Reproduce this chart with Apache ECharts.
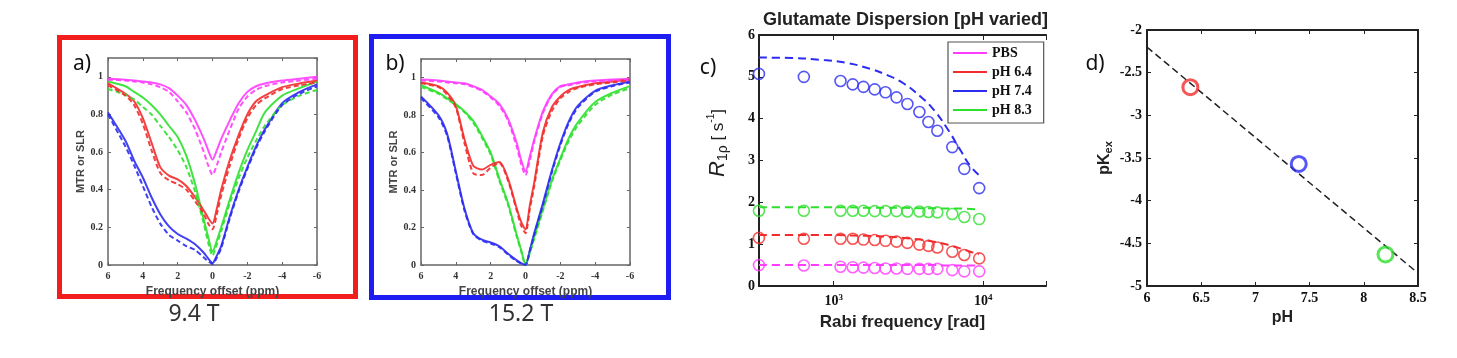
<!DOCTYPE html>
<html>
<head>
<meta charset="utf-8">
<script src="https://cdn.jsdelivr.net/npm/echarts@6/dist/echarts.min.js"></script>
<style>
html, body { margin: 0; padding: 0; background: #fff; }
#chart { width: 1457px; height: 358px; }
</style>
</head>
<body>
<div id="chart"></div>
<script>
// a) / b) Z-spectra: frequency offset (ppm), solid = MTR, dashed = SLR
const offsetPpm = [6, 5, 4.5, 4, 3.5, 3, 2.5, 2, 1.5, 1, 0.5, 0.25, 0, -0.25, -0.5, -1, -1.5, -2, -2.5, -3, -4, -5, -6];

// 9.4 T
const pbsSolidA  = [0.99, 0.985, 0.98, 0.975, 0.97, 0.96, 0.94, 0.90, 0.85, 0.77, 0.67, 0.61, 0.56, 0.61, 0.67, 0.77, 0.86, 0.92, 0.95, 0.965, 0.98, 0.99, 1.0];
const pbsDashA   = [0.985, 0.98, 0.975, 0.97, 0.96, 0.945, 0.92, 0.87, 0.81, 0.72, 0.60, 0.53, 0.48, 0.53, 0.60, 0.72, 0.83, 0.895, 0.93, 0.95, 0.97, 0.98, 0.99];
const ph64SolidA = [0.965, 0.91, 0.87, 0.78, 0.65, 0.52, 0.475, 0.455, 0.42, 0.36, 0.29, 0.25, 0.22, 0.30, 0.40, 0.56, 0.69, 0.80, 0.87, 0.90, 0.945, 0.965, 0.98];
const ph64DashA  = [0.955, 0.90, 0.85, 0.75, 0.61, 0.49, 0.45, 0.43, 0.40, 0.34, 0.27, 0.22, 0.19, 0.27, 0.37, 0.53, 0.67, 0.78, 0.85, 0.885, 0.935, 0.955, 0.97];
const ph74SolidA = [0.81, 0.66, 0.555, 0.465, 0.36, 0.27, 0.205, 0.165, 0.14, 0.11, 0.065, 0.035, 0.01, 0.05, 0.10, 0.26, 0.40, 0.52, 0.63, 0.72, 0.86, 0.92, 0.96];
const ph74DashA  = [0.80, 0.63, 0.53, 0.42, 0.31, 0.22, 0.16, 0.13, 0.10, 0.08, 0.04, 0.02, 0.005, 0.04, 0.09, 0.25, 0.39, 0.51, 0.62, 0.71, 0.85, 0.91, 0.95];
const ph83SolidA = [0.975, 0.95, 0.92, 0.89, 0.85, 0.80, 0.74, 0.68, 0.58, 0.43, 0.24, 0.15, 0.07, 0.13, 0.20, 0.35, 0.49, 0.61, 0.71, 0.81, 0.90, 0.94, 0.975];
const ph83DashA  = [0.935, 0.905, 0.88, 0.84, 0.80, 0.74, 0.68, 0.61, 0.52, 0.39, 0.22, 0.12, 0.05, 0.11, 0.18, 0.33, 0.46, 0.57, 0.66, 0.74, 0.85, 0.90, 0.93];

// 15.2 T
const pbsSolidB  = [0.99, 0.985, 0.98, 0.975, 0.97, 0.955, 0.935, 0.90, 0.86, 0.78, 0.65, 0.56, 0.50, 0.58, 0.67, 0.82, 0.91, 0.955, 0.965, 0.975, 0.985, 0.99, 0.995];
const pbsDashB   = [0.985, 0.98, 0.975, 0.97, 0.965, 0.95, 0.93, 0.895, 0.85, 0.77, 0.63, 0.54, 0.48, 0.56, 0.66, 0.81, 0.905, 0.95, 0.96, 0.97, 0.98, 0.985, 0.99];
const ph64SolidB = [0.975, 0.955, 0.92, 0.85, 0.67, 0.53, 0.51, 0.535, 0.55, 0.46, 0.30, 0.23, 0.19, 0.32, 0.44, 0.71, 0.84, 0.90, 0.935, 0.95, 0.97, 0.98, 0.99];
const ph64DashB  = [0.97, 0.95, 0.91, 0.84, 0.65, 0.49, 0.48, 0.52, 0.545, 0.45, 0.29, 0.21, 0.17, 0.30, 0.42, 0.69, 0.82, 0.89, 0.925, 0.945, 0.965, 0.975, 0.985];
const ph74SolidB = [0.90, 0.80, 0.70, 0.50, 0.30, 0.17, 0.135, 0.12, 0.10, 0.06, 0.025, 0.01, 0.0, 0.08, 0.17, 0.33, 0.50, 0.65, 0.77, 0.85, 0.93, 0.96, 0.98];
const ph74DashB  = [0.89, 0.79, 0.69, 0.49, 0.29, 0.165, 0.13, 0.115, 0.095, 0.055, 0.02, 0.008, 0.0, 0.075, 0.16, 0.32, 0.49, 0.64, 0.76, 0.84, 0.925, 0.955, 0.975];
const ph83SolidB = [0.96, 0.92, 0.89, 0.86, 0.82, 0.77, 0.69, 0.60, 0.46, 0.33, 0.16, 0.08, 0.005, 0.07, 0.15, 0.30, 0.45, 0.57, 0.68, 0.76, 0.87, 0.92, 0.955];
const ph83DashB  = [0.95, 0.915, 0.885, 0.855, 0.815, 0.76, 0.68, 0.59, 0.45, 0.32, 0.15, 0.075, 0.0, 0.065, 0.14, 0.29, 0.44, 0.56, 0.665, 0.745, 0.855, 0.91, 0.945];

// c) R1rho dispersion, Rabi frequency (rad)
const rabiX = [316, 631, 1110, 1340, 1580, 1880, 2220, 2630, 3110, 3740, 4300, 4930, 6210, 7470, 9400];
const r1pPbs  = [0.5, 0.49, 0.46, 0.45, 0.44, 0.43, 0.42, 0.42, 0.41, 0.41, 0.41, 0.41, 0.38, 0.35, 0.35];
const r1p64   = [1.15, 1.13, 1.13, 1.13, 1.11, 1.1, 1.08, 1.06, 1.03, 0.99, 0.96, 0.92, 0.82, 0.74, 0.66];
const r1p74   = [5.07, 5.0, 4.9, 4.82, 4.76, 4.7, 4.63, 4.51, 4.35, 4.16, 3.92, 3.71, 3.32, 2.8, 2.34];
const r1p83   = [1.8, 1.8, 1.8, 1.8, 1.8, 1.79, 1.79, 1.79, 1.78, 1.78, 1.77, 1.76, 1.72, 1.65, 1.6];
const fitX    = [316, 520, 860, 1230, 1680, 2280, 2940, 3800, 4670, 5730, 7030, 8190, 9360];
const fitPbs  = [0.50, 0.50, 0.50, 0.50, 0.50, 0.50, 0.50, 0.50, 0.50, 0.49, 0.49, 0.49, 0.49];
const fit64   = [1.22, 1.22, 1.22, 1.21, 1.20, 1.18, 1.15, 1.11, 1.06, 0.99, 0.90, 0.82, 0.76];
const fit74   = [5.46, 5.45, 5.40, 5.33, 5.21, 5.04, 4.84, 4.53, 4.21, 3.77, 3.25, 2.87, 2.65];
const fit83   = [1.88, 1.88, 1.88, 1.88, 1.87, 1.87, 1.87, 1.86, 1.86, 1.85, 1.85, 1.84, 1.83];
const legendNames = ['PBS', 'pH 6.4', 'pH 7.4', 'pH 8.3'];

// d) pKex vs pH
const dPH = [6.4, 7.4, 8.2];
const dPK = [-2.67, -3.57, -4.63];
const fitPH = [6, 8.5];
const fitPK = [-2.2, -4.85];

const MAGENTA = '#ff3cff', RED = '#f22c2c', BLUE = '#2c2cf2', GREEN = '#2ee02e';
const serifBold = { fontFamily: 'Liberation Serif', fontWeight: 'bold' };
const sansBold = { fontFamily: 'Liberation Sans', fontWeight: 'bold' };

const chart = echarts.init(document.getElementById('chart'));

function zAxisX(gridIndex, top) {
    return {
        gridIndex, type: 'value', min: -6, max: 6, interval: 2, inverse: true,
        position: top ? 'top' : 'bottom',
        axisLine: { show: true, onZero: false, lineStyle: { color: '#666', width: 1.5 } },
        axisTick: { show: true, inside: true, length: 3, lineStyle: { color: '#666' } },
        axisLabel: { show: !top, margin: 6, fontSize: 10, color: '#333', ...serifBold },
        splitLine: { show: false },
        name: top ? '' : 'Frequency offset (ppm)', nameLocation: 'middle', nameGap: 17,
        nameTextStyle: { fontSize: 12, color: '#444', ...sansBold }
    };
}
function zAxisY(gridIndex, right) {
    return {
        gridIndex, type: 'value', min: 0, max: 1.1, interval: 0.2,
        position: right ? 'right' : 'left',
        axisLine: { show: true, onZero: false, lineStyle: { color: '#666', width: 1.5 } },
        axisTick: { show: true, inside: true, length: 3, lineStyle: { color: '#666' } },
        axisLabel: { show: !right, margin: 5, fontSize: 10, color: '#333', showMaxLabel: false, ...serifBold },
        splitLine: { show: false },
        name: right ? '' : 'MTR or SLR', nameLocation: 'middle', nameGap: 22,
        nameTextStyle: { fontSize: 11, color: '#444', ...sansBold }
    };
}
function zLine(name, values, color, dashed, axisIndex) {
    return {
        type: 'line', name, xAxisIndex: axisIndex, yAxisIndex: axisIndex,
        data: offsetPpm.map((x, i) => [x, values[i]]),
        symbol: 'none', smooth: 0.25, silent: true, z: dashed ? 3 : 2,
        lineStyle: { color, width: 2, opacity: 0.9, type: dashed ? [5, 3] : 'solid' }
    };
}
function fitLine(name, values, color) {
    return {
        type: 'line', name, xAxisIndex: 4, yAxisIndex: 4,
        data: fitX.map((x, i) => [x, values[i]]),
        symbol: 'none', smooth: true, silent: true,
        itemStyle: { color },
        lineStyle: { color, width: 2, type: [8, 5] }
    };
}
function dots(name, values, color) {
    return {
        type: 'scatter', name, xAxisIndex: 4, yAxisIndex: 4,
        data: rabiX.map((x, i) => [x, values[i]]),
        symbol: 'circle', symbolSize: 11, silent: true,
        itemStyle: { color: 'rgba(0,0,0,0)', borderColor: color, borderWidth: 1.6 }
    };
}
function logLabel(v) {
    const e = Math.log10(v);
    if (Math.abs(e - Math.round(e)) > 1e-6) return '';
    return '{b|10}{e|' + Math.round(e) + '}';
}

const blackLine = { color: '#222', width: 2 };

const option = {
    animation: false,
    backgroundColor: '#fff',
    title: {
        text: 'Glutamate Dispersion [pH varied]', left: 758, top: 6,
        textStyle: { fontSize: 18, color: '#222', ...sansBold }
    },
    legend: {
        data: legendNames, orient: 'vertical', left: 948, top: 42,
        icon: 'rect', itemWidth: 34, itemHeight: 2, itemGap: 5,
        padding: [4, 12, 6, 5],
        borderColor: '#555', borderWidth: 1.2, backgroundColor: '#fff',
        itemStyle: { borderWidth: 0 },
        textStyle: { fontSize: 14, lineHeight: 14, color: '#111', ...serifBold },
        selectedMode: false
    },
    grid: [
        { left: 108, top: 58, width: 209, height: 207, outerBoundsMode: 'none', containLabel: false },
        { left: 421, top: 59, width: 209, height: 206, outerBoundsMode: 'none', containLabel: false },
        { left: 759, top: 35, width: 287, height: 251, outerBoundsMode: 'none', containLabel: false },
        { left: 1147, top: 30, width: 271, height: 256, outerBoundsMode: 'none', containLabel: false }
    ],
    xAxis: [
        zAxisX(0, false), zAxisX(0, true),
        zAxisX(1, false), zAxisX(1, true),
        {
            gridIndex: 2, type: 'log', logBase: 10, min: 316.23, max: 26300,
            axisLine: { show: true, onZero: false, lineStyle: blackLine },
            axisTick: { show: true, inside: true, length: 5, lineStyle: { color: '#222' } },
            axisLabel: {
                margin: 7, formatter: logLabel, color: '#111',
                rich: {
                    b: { fontSize: 14, ...serifBold, color: '#111' },
                    e: { fontSize: 9, ...serifBold, color: '#111', verticalAlign: 'top', padding: [0, 0, 8, 0] }
                }
            },
            splitLine: { show: false },
            name: 'Rabi frequency [rad]', nameLocation: 'middle', nameGap: 28,
            nameTextStyle: { fontSize: 17, color: '#222', ...sansBold }
        },
        {
            gridIndex: 2, type: 'log', logBase: 10, min: 316.23, max: 26300, position: 'top',
            axisLine: { show: true, onZero: false, lineStyle: blackLine },
            axisTick: { show: true, inside: true, length: 5, lineStyle: { color: '#222' } },
            axisLabel: { show: false }, splitLine: { show: false }
        },
        {
            gridIndex: 3, type: 'value', min: 6, max: 8.5, interval: 0.5,
            axisLine: { show: true, onZero: false, lineStyle: blackLine },
            axisTick: { show: true, inside: true, length: 4, lineStyle: { color: '#222' } },
            axisLabel: { margin: 5, fontSize: 14, color: '#111', ...serifBold },
            splitLine: { show: false },
            name: 'pH', nameLocation: 'middle', nameGap: 21,
            nameTextStyle: { fontSize: 16, color: '#222', ...sansBold }
        },
        {
            gridIndex: 3, type: 'value', min: 6, max: 8.5, interval: 0.5, position: 'top',
            axisLine: { show: true, onZero: false, lineStyle: blackLine },
            axisTick: { show: true, inside: true, length: 4, lineStyle: { color: '#222' } },
            axisLabel: { show: false }, splitLine: { show: false }
        }
    ],
    yAxis: [
        zAxisY(0, false), zAxisY(0, true),
        zAxisY(1, false), zAxisY(1, true),
        {
            gridIndex: 2, type: 'value', min: 0, max: 6, interval: 1,
            axisLine: { show: true, onZero: false, lineStyle: blackLine },
            axisTick: { show: true, inside: true, length: 4, lineStyle: { color: '#222' } },
            axisLabel: { margin: 4, fontSize: 14, color: '#111', ...serifBold },
            splitLine: { show: false }
        },
        {
            gridIndex: 3, type: 'value', min: -5, max: -2, interval: 0.5,
            axisLine: { show: true, onZero: false, lineStyle: blackLine },
            axisTick: { show: true, inside: true, length: 4, lineStyle: { color: '#222' } },
            axisLabel: { margin: 5, fontSize: 14, color: '#111', ...serifBold },
            splitLine: { show: false },
            name: '{n|pK}{s|ex}', nameLocation: 'middle', nameGap: 33,
            nameTextStyle: {
                rich: {
                    n: { fontSize: 16, color: '#222', ...sansBold },
                    s: { fontSize: 11, color: '#222', ...sansBold, verticalAlign: 'bottom', padding: [8, 0, 0, 0] }
                }
            }
        },
        {
            gridIndex: 3, type: 'value', min: -5, max: -2, interval: 0.5, position: 'right',
            axisLine: { show: true, onZero: false, lineStyle: blackLine },
            axisTick: { show: true, inside: true, length: 4, lineStyle: { color: '#222' } },
            axisLabel: { show: false }, splitLine: { show: false }
        }
    ],
    series: [
        zLine('a pbs', pbsSolidA, MAGENTA, false, 0), zLine('a pbs fit', pbsDashA, MAGENTA, true, 0),
        zLine('a 8.3', ph83SolidA, GREEN, false, 0), zLine('a 8.3 fit', ph83DashA, GREEN, true, 0),
        zLine('a 7.4', ph74SolidA, BLUE, false, 0), zLine('a 7.4 fit', ph74DashA, BLUE, true, 0),
        zLine('a 6.4', ph64SolidA, RED, false, 0), zLine('a 6.4 fit', ph64DashA, RED, true, 0),
        zLine('b pbs', pbsSolidB, MAGENTA, false, 2), zLine('b pbs fit', pbsDashB, MAGENTA, true, 2),
        zLine('b 8.3', ph83SolidB, GREEN, false, 2), zLine('b 8.3 fit', ph83DashB, GREEN, true, 2),
        zLine('b 7.4', ph74SolidB, BLUE, false, 2), zLine('b 7.4 fit', ph74DashB, BLUE, true, 2),
        zLine('b 6.4', ph64SolidB, RED, false, 2), zLine('b 6.4 fit', ph64DashB, RED, true, 2),

        fitLine('PBS', fitPbs, MAGENTA), fitLine('pH 6.4', fit64, RED),
        fitLine('pH 7.4', fit74, BLUE), fitLine('pH 8.3', fit83, GREEN),
        dots('PBS', r1pPbs, MAGENTA), dots('pH 6.4', r1p64, RED),
        dots('pH 7.4', r1p74, BLUE), dots('pH 8.3', r1p83, GREEN),

        {
            type: 'line', name: 'd fit', xAxisIndex: 6, yAxisIndex: 5,
            data: fitPH.map((x, i) => [x, fitPK[i]]),
            symbol: 'none', silent: true,
            lineStyle: { color: '#222', width: 1.5, type: [7, 4] }
        },
        {
            type: 'scatter', name: 'd pts', xAxisIndex: 6, yAxisIndex: 5,
            symbol: 'circle', symbolSize: 15, silent: true, z: 3,
            data: dPH.map((x, i) => ({
                value: [x, dPK[i]],
                itemStyle: { color: 'rgba(0,0,0,0)', borderColor: [RED, BLUE, GREEN][i], borderWidth: 3 }
            }))
        }
    ],
    graphic: [
        { type: 'rect', shape: { x: 59.5, y: 37.5, width: 296, height: 259 }, style: { fill: 'none', stroke: '#f21d1d', lineWidth: 5 }, silent: true },
        { type: 'rect', shape: { x: 371.5, y: 36.5, width: 297, height: 261 }, style: { fill: 'none', stroke: '#1d1df2', lineWidth: 5 }, silent: true },
        { type: 'text', style: { text: 'a)', x: 82, y: 64, textAlign: 'center', textVerticalAlign: 'middle', align: 'center', verticalAlign: 'middle', fontSize: 21, fontFamily: 'Noto Sans', fill: '#111' } },
        { type: 'text', style: { text: 'b)', x: 395, y: 64, textAlign: 'center', textVerticalAlign: 'middle', align: 'center', verticalAlign: 'middle', fontSize: 21, fontFamily: 'Noto Sans', fill: '#111' } },
        { type: 'text', style: { text: 'c)', x: 708, y: 68, textAlign: 'center', textVerticalAlign: 'middle', align: 'center', verticalAlign: 'middle', fontSize: 21, fontFamily: 'Noto Sans', fill: '#111' } },
        { type: 'text', style: { text: 'd)', x: 1095, y: 64, textAlign: 'center', textVerticalAlign: 'middle', align: 'center', verticalAlign: 'middle', fontSize: 21, fontFamily: 'Noto Sans', fill: '#111' } },
        { type: 'text', style: { text: '9.4 T', x: 194, y: 314, textAlign: 'center', textVerticalAlign: 'middle', align: 'center', verticalAlign: 'middle', fontSize: 23, fontFamily: 'Noto Sans', fill: '#333' } },
        { type: 'text', style: { text: '15.2 T', x: 521, y: 314, textAlign: 'center', textVerticalAlign: 'middle', align: 'center', verticalAlign: 'middle', fontSize: 23, fontFamily: 'Noto Sans', fill: '#333' } },
        {
            type: 'text', x: 718, y: 143, rotation: Math.PI / 2,
            style: {
                text: '{r|R}{s|1ρ}{n| [ s}{p|-1}{n|]}',
                textAlign: 'center', textVerticalAlign: 'middle', align: 'center', verticalAlign: 'middle',
                rich: {
                    r: { fontSize: 22, fontStyle: 'italic', fontFamily: 'Liberation Sans', fill: '#222', lineHeight: 24 },
                    s: { fontSize: 14, fontFamily: 'Liberation Sans', fill: '#222', verticalAlign: 'bottom', lineHeight: 24 },
                    n: { fontSize: 17, fontFamily: 'Liberation Sans', fill: '#222', lineHeight: 24 },
                    p: { fontSize: 10, fontFamily: 'Liberation Sans', fill: '#222', verticalAlign: 'top', lineHeight: 24 }
                }
            }
        }
    ]
};

chart.setOption(option);
</script>
</body>
</html>
